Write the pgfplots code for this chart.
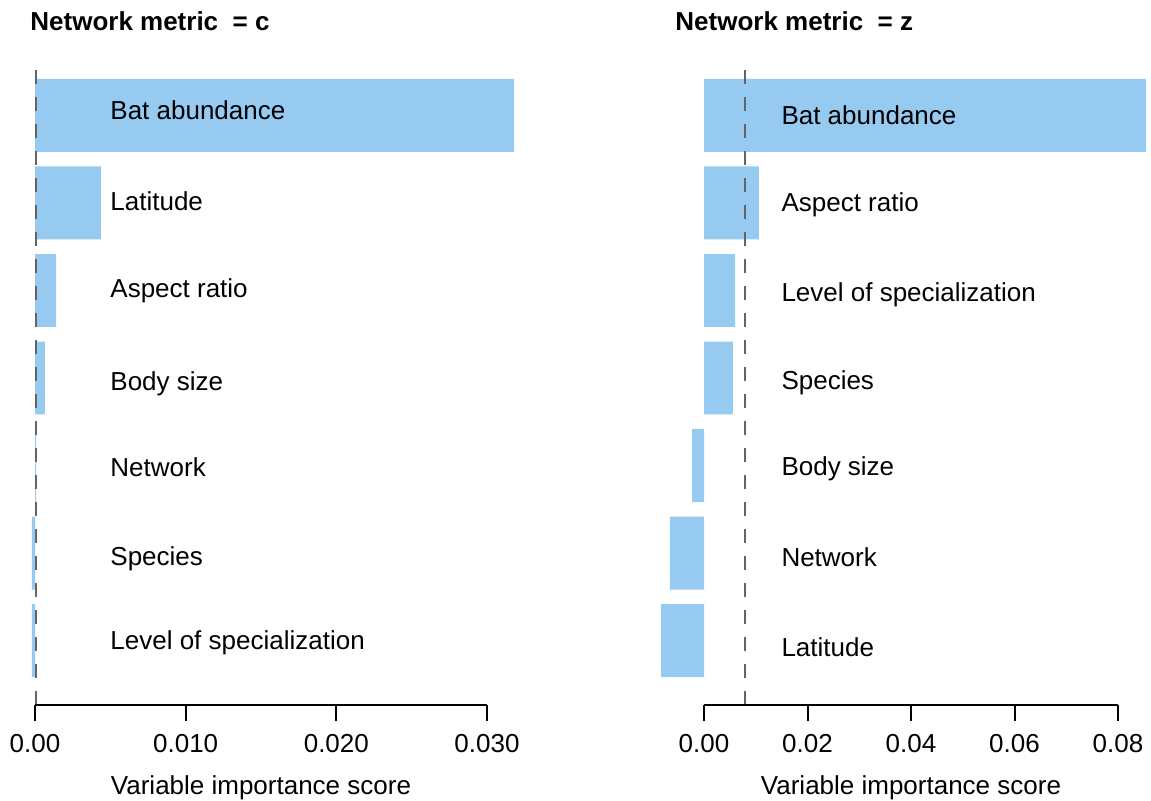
\documentclass[border=0pt]{standalone}
\usepackage{fontspec}
\setmainfont{Liberation Sans}
\usepackage{pgfplots}
\pgfplotsset{compat=1.18}

\definecolor{barblue}{RGB}{150,202,240}
\definecolor{refgrey}{RGB}{100,100,100}

\newcommand{\lbl}{\fontsize{13}{15}\selectfont}

\pgfplotsset{
  vip/.style={
    scale only axis,
    height=321.5pt,
    ymin=0.265, ymax=7.61,
    axis y line=none,
    axis x line*=bottom,
    x axis line style={draw=none},
    tick align=outside,
    major tick length=8pt,
    every tick/.style={black, line width=1pt},
    scaled x ticks=false,
    /pgf/number format/assume math mode=true,
    xticklabel style={font=\lbl, yshift=-3pt},
    clip=false,
  },
}
\tikzset{
  catlabel/.style={anchor=base west, yshift=-4.65pt, font=\lbl, inner sep=0pt},
  refline/.style={refgrey, line width=0.9pt, dash pattern=on 7pt off 6.5pt},
}

\begin{document}
\begin{tikzpicture}
\useasboundingbox (0,0) rectangle (575.5pt,-400.5pt);

% ---- network metric c ----
\begin{axis}[vip,
  at={(15pt,-352.5pt)}, anchor=south west,
  width=245pt,
  xmin=-0.000332, xmax=0.03219,
  xtick={0,0.01,0.02,0.03},
  xticklabels={0.00,0.010,0.020,0.030},
]
\addplot[xbar, bar width=0.833, fill=barblue, draw=none] coordinates {
  (0.0318,7) (0.00438,6) (0.0014,5) (0.00066,4)
  (0.00008,3) (-0.0002,2) (-0.0002,1)};
\addplot[refline] coordinates {(0.00007,0.265) (0.00007,7.61)};
\draw[line width=1pt] (axis cs:0,0.265) -- (axis cs:0.03,0.265);
\node[catlabel, yshift=2.5pt] at (axis cs:0.00498,7) {Bat abundance};
\node[catlabel, yshift=1pt] at (axis cs:0.00498,6) {Latitude};
\node[catlabel, yshift=1pt] at (axis cs:0.00498,5) {Aspect ratio};
\node[catlabel, yshift=-1.5pt] at (axis cs:0.00498,4) {Body size};
\node[catlabel, yshift=-1pt] at (axis cs:0.00498,3) {Network};
\node[catlabel, yshift=-1.5pt] at (axis cs:0.00498,2) {Species};
\node[catlabel] at (axis cs:0.00498,1) {Level of specialization};
\node[font=\lbl, anchor=center] at ([yshift=-41.5pt]axis cs:0.015,0.265) {Variable importance score};
\end{axis}

% ---- network metric z ----
\begin{axis}[vip,
  at={(327.5pt,-352.5pt)}, anchor=south west,
  width=247.5pt,
  xmin=-0.009469, xmax=0.086184,
  xtick={0,0.02,0.04,0.06,0.08},
  xticklabels={0.00,0.02,0.04,0.06,0.08},
]
\addplot[xbar, bar width=0.833, fill=barblue, draw=none] coordinates {
  (0.0854,7) (0.0106,6) (0.0060,5) (0.0056,4)
  (-0.0023,3) (-0.0066,2) (-0.0083,1)};
\addplot[refline] coordinates {(0.0079,0.265) (0.0079,7.61)};
\draw[line width=1pt] (axis cs:0,0.265) -- (axis cs:0.08,0.265);
\node[catlabel] at (axis cs:0.0149,7) {Bat abundance};
\node[catlabel, yshift=0.5pt] at (axis cs:0.0149,6) {Aspect ratio};
\node[catlabel, yshift=-1pt] at (axis cs:0.0149,5) {Level of specialization};
\node[catlabel, yshift=-1pt] at (axis cs:0.0149,4) {Species};
\node[catlabel, yshift=-0.5pt] at (axis cs:0.0149,3) {Body size};
\node[catlabel, yshift=-2pt] at (axis cs:0.0149,2) {Network};
\node[catlabel, yshift=-3.5pt] at (axis cs:0.0149,1) {Latitude};
\node[font=\lbl, anchor=center] at ([yshift=-41.5pt]axis cs:0.04,0.265) {Variable importance score};
\end{axis}

% panel titles
\node[anchor=base west, inner sep=0pt, font=\fontsize{13}{15}\selectfont\bfseries]
  at (15pt,-15.5pt) {Network metric~~= c};
\node[anchor=base west, inner sep=0pt, font=\fontsize{13}{15}\selectfont\bfseries]
  at (337.5pt,-15.5pt) {Network metric~~= z};
\end{tikzpicture}
\end{document}
